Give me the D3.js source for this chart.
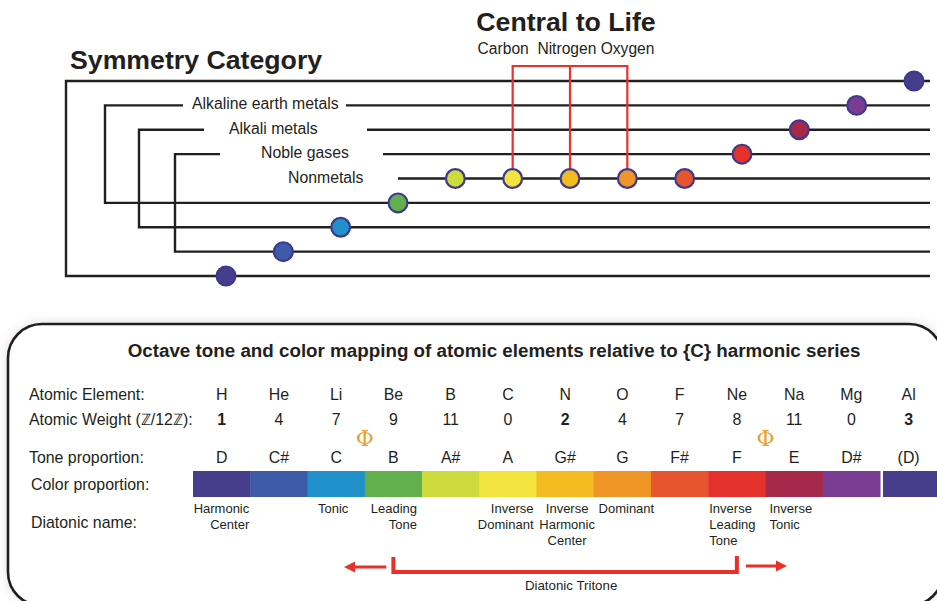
<!DOCTYPE html>
<html><head><meta charset="utf-8">
<script src="https://cdn.jsdelivr.net/npm/d3@7"></script>
<style>
html,body{margin:0;padding:0;background:#fff;}
svg{display:block;font-family:"Liberation Sans",Arial,Helvetica,sans-serif;}
</style></head><body>
<svg id="chart" width="937" height="601"></svg>
<script>
// ---------------- data ----------------
const elements = ["H","He","Li","Be","B","C","N","O","F","Ne","Na","Mg","Al"];
const weights = [1,4,7,9,11,0,2,4,7,8,11,0,3];
const boldWeights = ["H","N","Al"];
const tones = ["D","C#","C","B","A#","A","G#","G","F#","F","E","D#","(D)"];
const toneColors = ["#463d8b","#3d5ba8","#2191cc","#62b04d","#cddb3c","#f3e43d","#f2bb1f","#ef9627","#e8542d","#e4312b","#a7294a","#7b3d93","#463d8b"];
const symmetryLevel = [8,7,6,5,4,4,4,4,4,3,2,1,0];
const categories = ["Alkaline earth metals","Alkali metals","Noble gases","Nonmetals"];
const categoryLevels = [[1,5],[2,6],[3,7],[4]];
const lifeElements = ["C","N","O"];
const lifeNames = ["Carbon","Nitrogen","Oxygen"];
const diatonicNames = [["Harmonic","Center"],null,["Tonic"],["Leading","Tone"],null,["Inverse","Dominant"],["Inverse","Harmonic","Center"],["Dominant"],null,["Inverse","Leading","Tone"],["Inverse","Tonic"],null,null];
const phiBetween = [["Li","Be"],["Ne","Na"]];
const tritone = ["Be","Ne"];
const rowLabels = ["Atomic Element:","Atomic Weight (\u2124/12\u2124):","Tone proportion:","Color proportion:","Diatonic name:"];

// ---------------- layout ----------------
const INK = "#231f20", RED = "#e8312a", NAVY = "#3d3a8e";
const svg = d3.select("#chart");
const defs = svg.append("defs");
const flt = defs.append("filter").attr("id","sh").attr("x","-10%").attr("y","-10%").attr("width","120%").attr("height","120%");
flt.append("feDropShadow").attr("dx",0).attr("dy",0).attr("stdDeviation",6).attr("flood-color","#000").attr("flood-opacity",0.13);

// ====== TOP: symmetry diagram ======
const xTop = d3.scalePoint().domain(elements).range([226,914]);
const yLev = d3.scalePoint().domain(d3.range(9)).range([81,276]);
const RIGHT = 930;
const gTop = svg.append("g");

gTop.append("text").attr("x",70).attr("y",69).attr("font-size",26.7).attr("font-weight","bold").attr("fill",INK).text("Symmetry Category");

// outer bracket
gTop.append("path").attr("d",`M${RIGHT},${yLev(0)}H66V${yLev(8)}H${RIGHT}`).attr("fill","none").attr("stroke",INK).attr("stroke-width",2.4);

const catLayout = [
  {left:105, gapStart:183, textX:192, gapEnd:346},
  {left:139, gapStart:204, textX:229, gapEnd:367},
  {left:175, gapStart:220, textX:261, gapEnd:383},
  {left:null, gapStart:null, textX:288, gapEnd:398}
];
categories.forEach((name,i)=>{
  const L = catLayout[i], lv = categoryLevels[i];
  const yA = yLev(lv[0]);
  if (L.left !== null) {
    const yB = yLev(lv[1]);
    gTop.append("path").attr("d",`M${L.gapStart},${yA}H${L.left}V${yB}H${RIGHT}`).attr("fill","none").attr("stroke",INK).attr("stroke-width",2.4);
  }
  gTop.append("line").attr("x1",L.gapEnd).attr("x2",RIGHT).attr("y1",yA).attr("y2",yA).attr("stroke",INK).attr("stroke-width",2.4);
  gTop.append("text").attr("x",L.textX).attr("y",yA+4).attr("font-size",15.8).attr("fill",INK).text(name);
});

// Central to life
const lifeX = lifeElements.map(e=>xTop(e));
const brY = 66;
gTop.append("text").attr("x",566).attr("y",31).attr("text-anchor","middle").attr("font-size",26.7).attr("font-weight","bold").attr("fill",INK).text("Central to Life");
gTop.append("text").attr("x",566).attr("y",54).attr("text-anchor","middle").attr("font-size",15.6).attr("fill",INK)
  .text(lifeNames[0]+"\u00a0\u00a0"+lifeNames.slice(1).join(" "));
gTop.append("line").attr("x1",d3.min(lifeX)).attr("x2",d3.max(lifeX)).attr("y1",brY).attr("y2",brY).attr("stroke",RED).attr("stroke-width",2.2);
lifeElements.forEach(e=>{
  const i = elements.indexOf(e);
  gTop.append("line").attr("x1",xTop(e)).attr("x2",xTop(e)).attr("y1",brY-1).attr("y2",yLev(symmetryLevel[i])).attr("stroke",RED).attr("stroke-width",2.2);
});

// element circles
gTop.selectAll("circle.el").data(elements).join("circle").attr("class","el")
  .attr("cx",d=>xTop(d)).attr("cy",(d,i)=>yLev(symmetryLevel[i]))
  .attr("r",9.4).attr("fill",(d,i)=>toneColors[i]).attr("stroke",NAVY).attr("stroke-width",2.2);

// ====== BOTTOM: octave mapping ======
const bot = svg.append("g");
bot.append("rect").attr("x",8).attr("y",324).attr("width",935).attr("height",282).attr("rx",34)
  .attr("fill","#fff").attr("stroke",INK).attr("stroke-width",2.6).attr("filter","url(#sh)");

bot.append("text").attr("x",494).attr("y",357).attr("text-anchor","middle").attr("font-size",18.8).attr("font-weight","bold").attr("fill",INK)
  .text("Octave tone and color mapping of atomic elements relative to {C} harmonic series");

const rowY = [400,425,463,490,528];
const rowX = [29,29,29,31,31];
rowLabels.forEach((t,i)=>{
  bot.append("text").attr("x",rowX[i]).attr("y",rowY[i]).attr("font-size",15.9).attr("fill",INK).text(t);
});

const xb = d3.scaleBand().domain(elements).range([193,193+57.25*13]).padding(0);
const bw = xb.bandwidth();
const cx = e => xb(e)+bw/2;
const OCT_GAP = 3;

bot.selectAll("text.elem").data(elements).join("text").attr("class","elem")
  .attr("x",d=>cx(d)).attr("y",rowY[0]).attr("text-anchor","middle").attr("font-size",15.9).attr("fill",INK).text(d=>d);
bot.selectAll("text.wt").data(weights).join("text").attr("class","wt")
  .attr("x",(d,i)=>cx(elements[i])).attr("y",rowY[1]).attr("text-anchor","middle").attr("font-size",15.9)
  .attr("font-weight",(d,i)=>boldWeights.includes(elements[i])?"bold":"normal").attr("fill",INK).text(d=>d);
bot.selectAll("text.tone").data(tones).join("text").attr("class","tone")
  .attr("x",(d,i)=>cx(elements[i])).attr("y",rowY[2]).attr("text-anchor","middle").attr("font-size",15.9).attr("fill",INK).text(d=>d);

// phi markers
phiBetween.forEach(p=>{
  const x = (cx(p[0])+cx(p[1]))/2;
  bot.append("text").attr("x",x).attr("y",446).attr("text-anchor","middle").attr("font-family","'DejaVu Serif','Liberation Serif',serif")
    .attr("font-size",22).attr("fill","#e9a128").text("\u03a6");
});

// color bar
bot.selectAll("rect.seg").data(elements).join("rect").attr("class","seg")
  .attr("x",(d,i)=>xb(d)+(i===12?OCT_GAP:0)).attr("y",471).attr("width",bw+0.5).attr("height",26)
  .attr("fill",(d,i)=>toneColors[i]);

// diatonic names
const nameLayout = {0:["end",bw/2-1],2:["middle",-3],3:["end",bw/2-5],5:["end",bw/2-3],6:["middle",2],7:["middle",4],9:["start",-bw/2+1],10:["start",-bw/2+4]};
diatonicNames.forEach((lines,i)=>{
  if(!lines) return;
  const [anchor,dx] = nameLayout[i];
  const t = bot.append("text").attr("text-anchor",anchor).attr("font-size",13).attr("fill",INK);
  lines.forEach((ln,k)=>{
    t.append("tspan").attr("x",cx(elements[i])+dx).attr("y",513+16*k).text(ln);
  });
});

// tritone bracket and arrows
const tx0 = cx(tritone[0]), tx1 = cx(tritone[1]);
bot.append("path").attr("d",`M${tx0},557V572H${tx1}V556`).attr("fill","none").attr("stroke",RED).attr("stroke-width",4);
function arrow(x1,x2,y){
  const dir = Math.sign(x2-x1);
  bot.append("line").attr("x1",x1).attr("x2",x2-dir*9).attr("y1",y).attr("y2",y).attr("stroke",RED).attr("stroke-width",3);
  bot.append("path").attr("d",`M${x2},${y}L${x2-dir*11},${y-5.5}L${x2-dir*11},${y+5.5}Z`).attr("fill",RED);
}
arrow(tx0-7,344,567);
arrow(tx1+9,787,566);
bot.append("text").attr("x",(tx0+tx1)/2+6).attr("y",590).attr("text-anchor","middle").attr("font-size",13.3).attr("fill",INK).text("Diatonic Tritone");
</script>
</body></html>
